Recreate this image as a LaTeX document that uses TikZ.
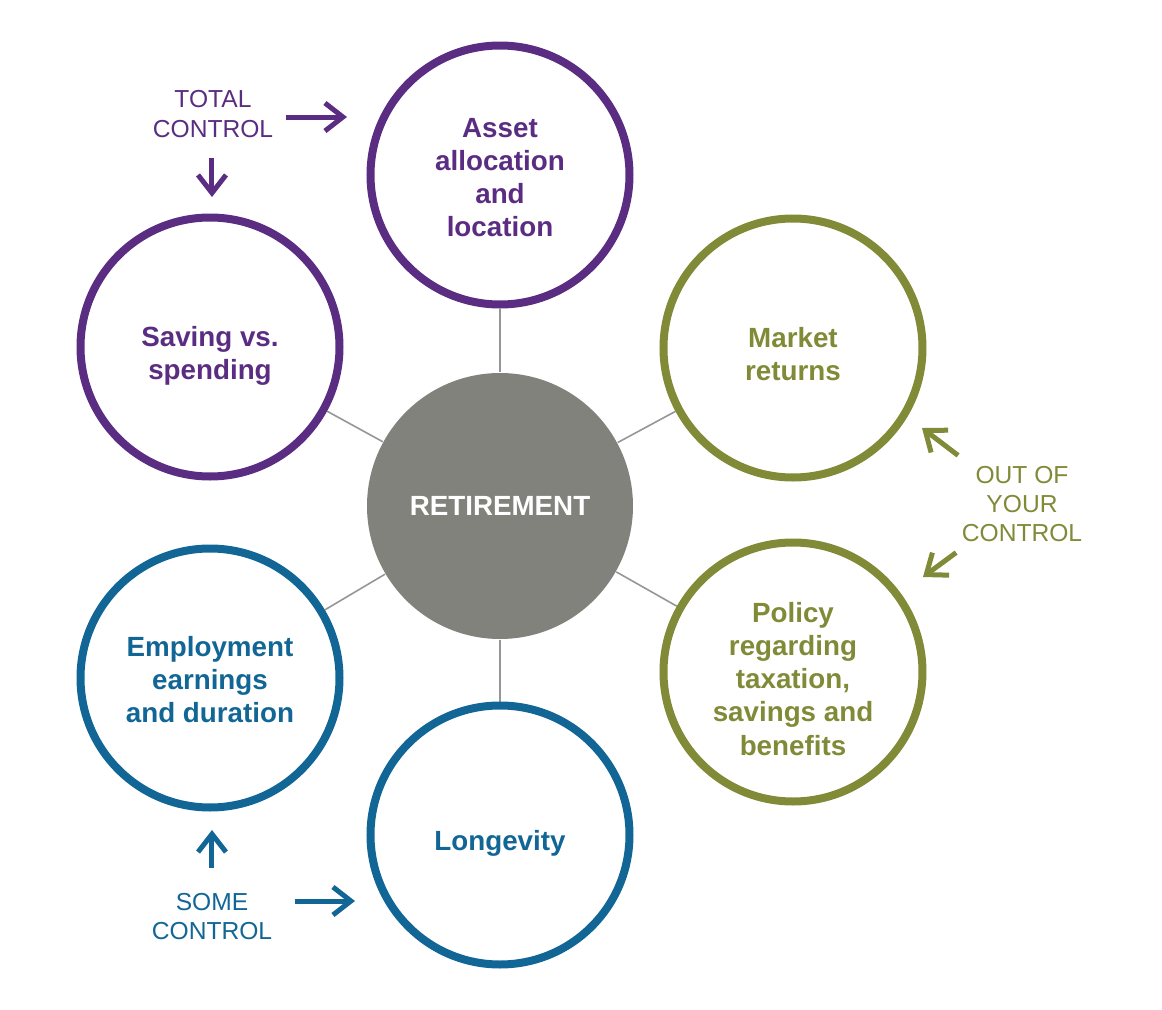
\documentclass[tikz,border=0pt]{standalone}
\usepackage{fontspec}
\setmainfont{Liberation Sans}
\usepackage{tikz}
\usetikzlibrary{arrows.meta,backgrounds}

\definecolor{purp}{RGB}{90,45,130}
\definecolor{olive}{RGB}{128,138,55}
\definecolor{petrol}{RGB}{18,102,150}
\definecolor{hubgray}{RGB}{130,130,124}
\definecolor{spokegray}{RGB}{150,150,150}

\tikzset{
  ring/.style={circle, draw, line width=0.08cm, minimum size=2.59cm, inner sep=0pt},
  ringtext/.style={align=center, inner sep=0pt, font=\fontsize{7.9}{9.4}\selectfont\bfseries},
  hub/.style={circle, fill=hubgray, minimum size=2.66cm, inner sep=0pt,
    text=white, font=\fontsize{7.9}{9.4}\selectfont\bfseries},
  spoke/.style={draw=spokegray, line width=0.016cm},
  note/.style={align=center, font=\fontsize{7}{8.3}\selectfont},
  ctrl/.style={line width=0.05cm, -{Straight Barb[length=0.18cm,width=0.28cm]}}
}

\begin{document}
\begin{tikzpicture}
\useasboundingbox (0cm,0cm) rectangle (11.62cm,-10.10cm);
\node[hub] (ret) at (5.00cm,-5.06cm) {RETIREMENT};
\node[ring, purp] (asset) at (5.00cm,-1.75cm) {};
\node[ring, purp] (saving) at (2.10cm,-3.47cm) {};
\node[ring, olive] (market) at (7.93cm,-3.48cm) {};
\node[ring, olive] (policy) at (7.93cm,-6.72cm) {};
\node[ring, petrol] (employ) at (2.10cm,-6.78cm) {};
\node[ring, petrol] (longev) at (5.00cm,-8.35cm) {};

\node[ringtext, purp, yshift=-0.03cm] (asset-t) at (asset) {Asset\\allocation\\and\\location};
\node[ringtext, purp, yshift=-0.09cm] (saving-t) at (saving) {Saving vs.\\spending};
\node[ringtext, olive, yshift=-0.06cm] (market-t) at (market) {Market\\returns};
\node[ringtext, olive, yshift=-0.07cm] (policy-t) at (policy) {Policy\\regarding\\taxation,\\savings and\\benefits};
\node[ringtext, petrol, yshift=-0.02cm] (employ-t) at (employ) {Employment\\earnings\\and duration};
\node[ringtext, petrol, yshift=-0.08cm] (longev-t) at (longev) {Longevity};

\begin{scope}[on background layer]
\draw[spoke] (ret) -- (asset);
\draw[spoke] (ret) -- (saving);
\draw[spoke] (ret) -- (market);
\draw[spoke] (ret) -- (policy);
\draw[spoke] (ret) -- (employ);
\draw[spoke] (ret) -- (longev);
\end{scope}

\node[note, purp, inner xsep=0.12cm, inner ysep=0.20cm] (total) at (2.13cm,-1.14cm) {TOTAL\\CONTROL};
\coordinate (total-r) at (3.47cm,-1.17cm);
\coordinate (total-d) at (2.12cm,-1.97cm);
\draw[ctrl, purp] (total.east |- total-r) -- (total-r);
\draw[ctrl, purp] (total.south -| total-d) -- (total-d);

\node[note, olive, inner xsep=0.09cm, inner ysep=0.10cm] (out) at (10.22cm,-5.04cm) {OUT OF\\YOUR\\CONTROL};
\coordinate (out-u) at (9.22cm,-4.28cm);
\coordinate (out-d) at (9.23cm,-5.77cm);
\draw[ctrl, olive] (out) -- (out-u);
\draw[ctrl, olive] (out) -- (out-d);

\node[note, petrol, inner xsep=0.22cm, inner ysep=0.25cm] (some) at (2.12cm,-9.165cm) {SOME\\CONTROL};
\coordinate (some-u) at (2.12cm,-8.30cm);
\coordinate (some-r) at (3.55cm,-9.01cm);
\draw[ctrl, petrol] (some.north -| some-u) -- (some-u);
\draw[ctrl, petrol] (some.east |- some-r) -- (some-r);
\end{tikzpicture}
\end{document}
